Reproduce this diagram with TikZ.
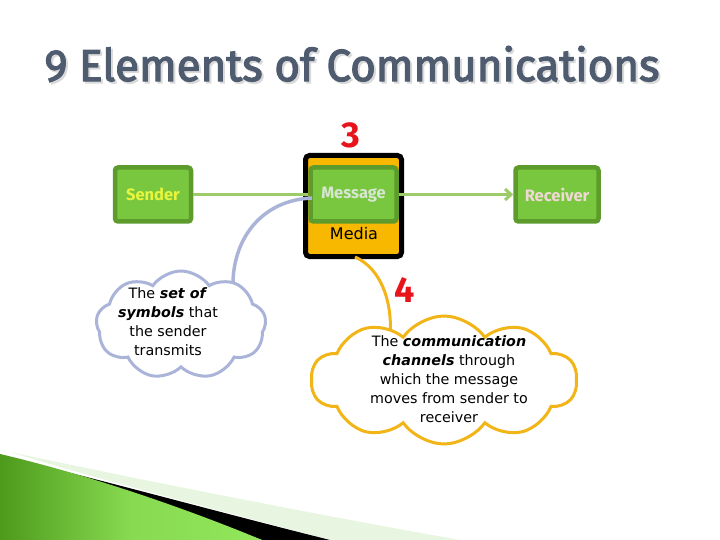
\documentclass[tikz,border=0pt]{standalone}
\usepackage{fontspec}
\setmainfont{DejaVu Sans}
\newfontfamily\titlefont{Fira Sans}[FakeBold=2.6]
\newfontfamily\boxfont{Fira Sans}
\usetikzlibrary{shapes.symbols,arrows.meta,calc}
\definecolor{titlecol}{HTML}{4F5B6E}
\definecolor{shadowcol}{HTML}{DADADA}
\definecolor{boxedge}{HTML}{5C9B2C}
\definecolor{boxfill}{HTML}{79C73F}
\definecolor{linkgreen}{HTML}{9CCC6A}
\definecolor{gold}{HTML}{F8B800}
\definecolor{cloudblue}{HTML}{A9B4D8}
\definecolor{cloudgold}{HTML}{F2B518}
\definecolor{numred}{HTML}{E8141B}
\definecolor{senderyel}{HTML}{E8F53C}
\definecolor{msgtxt}{HTML}{D6E6D2}
\definecolor{rcvtxt}{HTML}{F0D8D6}
\definecolor{swdark}{HTML}{4E9A1C}
\definecolor{swlight}{HTML}{92E65A}
\definecolor{swpale}{HTML}{E8F5E0}
\tikzset{
  elbox/.style={draw=boxedge, fill=boxfill, line width=4.5pt, rounded corners=3pt,
    minimum width=76pt, minimum height=54pt, inner sep=0pt,
    font=\boxfont\bfseries\fontsize{16.5}{16.5}\selectfont},
  link/.style={draw=linkgreen, line width=3pt},
  num/.style={text=numred, font=\boxfont\bfseries\fontsize{36}{36}\selectfont, inner sep=0pt},
  cloudtxt/.style={font=\fontsize{14.3}{19}\selectfont, align=center, inner sep=0pt},
  cloudbox/.style={cloud, fill=white, line width=3pt, cloud ignores aspect},
}
\begin{document}
\begin{tikzpicture}[x=1pt,y=-1pt]
\useasboundingbox (0,0) rectangle (720,540);
% bottom-left swoosh
\fill[swpale] (10,452) .. controls (150,482) and (330,517) .. (460,540) -- (330,540) .. controls (200,505) and (100,480) .. (10,452) -- cycle;
\fill[black] (35,464) .. controls (120,485) and (230,515) .. (330,540) -- (262,540) .. controls (170,505) and (80,475) .. (35,464) -- cycle;
\shade[left color=swdark, right color=swlight, middle color=swlight!85!swdark] (0,454) .. controls (90,475) and (190,510) .. (262,540) -- (0,540) -- cycle;
% title
\node[text=shadowcol] at (354,66) {\resizebox{615pt}{35pt}{\titlefont 9 Elements of Communications}};
\node[text=titlecol] at (352,64) {\resizebox{615pt}{35pt}{\titlefont 9 Elements of Communications}};
% number 3
\node[num] (n3) at (351,135) {3};
% media box
\node[draw=black, fill=gold, line width=5pt, rounded corners=4pt, minimum width=96pt, minimum height=101pt] (media) at (353.5,206) {};
\node[font=\fontsize{16}{16}\selectfont, inner sep=0pt] (medialbl) at (354,234) {Media};
% element boxes
\node[elbox, text=senderyel] (sender) at (153,194.5) {Sender};
\node[elbox, text=msgtxt, minimum width=86pt] (msg) at (353.5,194.5) {Message};
\node[elbox, text=rcvtxt, minimum width=83pt] (rcv) at (557,194.5) {Receiver};
% links
\draw[link] (sender.east) -- (msg.west);
\draw[link, -{Straight Barb[length=6pt,width=11pt]}] (msg.east) -- (rcv.west);
% connector curves
\coordinate (lend) at (233,282);
\coordinate (mstart) at (312,198);
\draw[cloudblue, line width=3.5pt] (mstart) .. controls (262,200) and (234,238) .. (lend);
\coordinate (ystart) at (355,257);
\coordinate (yend) at (390,338);
\draw[cloudgold, line width=3pt] (ystart) .. controls (380,268) and (393,300) .. (yend);
% clouds
\node[cloudbox, draw=cloudblue, cloud puffs=9, cloud puff arc=110, minimum width=170pt, minimum height=108pt] (lcloud) at (181,325) {};
\node[cloudtxt] (ltxt) at (168,322) {The \textbf{\textit{set of}}\\ \textbf{\textit{symbols}} that\\ the sender\\ transmits};
\node[cloudbox, draw=cloudgold, cloud puffs=10, cloud puff arc=110, minimum width=266pt, minimum height=128pt] (rcloud) at (444,380) {};
\node[cloudtxt] (rtxt) at (449,379) {The \textbf{\textit{communication}}\\ \textbf{\textit{channels}} through\\ which the message\\ moves from sender to\\ receiver};
% number 4
\node[num] (n4) at (405,290) {4};
\end{tikzpicture}
\end{document}
